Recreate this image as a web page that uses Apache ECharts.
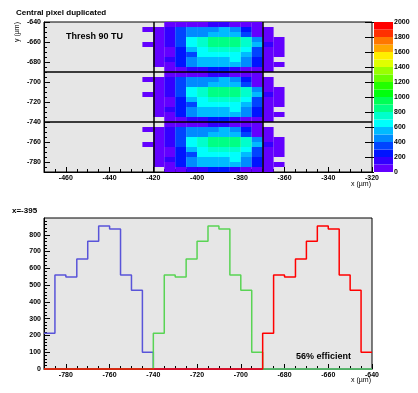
<!DOCTYPE html>
<html><head><meta charset="utf-8">
<script src="https://cdn.jsdelivr.net/npm/echarts@6/dist/echarts.min.js"></script>
<style>html,body{margin:0;padding:0;background:#fff}#c{width:418px;height:393px}</style>
</head><body><div id="c"></div>
<script>
// ================= DATA =================
// 2D map: left edges of the 5 µm x bins
const heatXEdges = [-425,-420,-415,-410,-405,-400,-395,-390,-385,-380,-375,-370,-365];
// top edges of the 5 µm y rows, per duplicated pixel block
const topBlockRowTops    = [-640,-645,-650,-655,-660,-665,-670,-675,-680,-685];
const middleBlockRowTops = [-690,-695,-700,-705,-710,-715,-720,-725,-730,-735];
const bottomBlockRowTops = [-740,-745,-750,-755,-760,-765,-770,-775,-780,-785];
// counts (rows from top to bottom, columns from left to right), 0 = empty
const topBlockCounts = [
  [0, 0, 60, 60, 60, 60,100,120, 60, 60, 60,  0,  0],
  [50,60,180,370,480,470,470,560,480,250, 60, 60,  0],
  [0, 60,190,360,480,490,560,570,500,350, 70, 60,  0],
  [0, 60,180,380,650,760,834,850,840,740,480, 60, 60],
  [60,60,180,360,660,750,852,860,850,730,560,150, 60],
  [0, 60, 70,250,520,680,762,760,740,660,380, 60, 60],
  [0, 60, 60,250,380,640,655,660,670,560,380, 60, 60],
  [0, 60,160,260,480,560,548,570,640,480,250, 60,  0],
  [0, 60, 60,250,470,560,560,560,560,480,250, 60, 60],
  [0,  0, 60, 60,160,150,213,220,150, 60, 60, 60,  0]
];
const middleBlockCounts = [
  [0, 0, 60, 60, 60, 60,100,120, 60, 60, 60,  0,  0],
  [50,60,180,370,480,470,470,560,480,250, 60, 60,  0],
  [0, 60,190,360,480,490,560,570,500,350, 70, 60,  0],
  [0, 60,180,380,650,760,834,850,840,740,480, 60, 60],
  [60,60,180,360,660,750,852,860,850,730,560,150, 60],
  [0, 60, 70,250,520,680,762,760,740,660,380, 60, 60],
  [0, 60, 60,250,380,640,655,660,670,560,380, 60, 60],
  [0, 60,160,260,480,560,548,570,640,480,250, 60,  0],
  [0, 60, 60,250,470,560,560,560,560,480,250, 60, 60],
  [0,  0, 60, 60,160,150,213,220,150, 60, 60, 60,  0]
];
const bottomBlockCounts = [
  [0, 0, 60, 60, 60, 60,100,120, 60, 60, 60,  0,  0],
  [50,60,180,370,480,470,470,560,480,250, 60, 60,  0],
  [0, 60,190,360,480,490,560,570,500,350, 70, 60,  0],
  [0, 60,180,380,650,760,834,850,840,740,480, 60, 60],
  [60,60,180,360,660,750,852,860,850,730,560,150, 60],
  [0, 60, 70,250,520,680,762,760,740,660,380, 60, 60],
  [0, 60, 60,250,380,640,655,660,670,560,380, 60, 60],
  [0, 60,160,260,480,560,548,570,640,480,250, 60,  0],
  [0, 60, 60,250,470,560,560,560,560,480,250, 60, 60],
  [0,  0, 60, 60,160,150,213,220,150, 60, 60, 60,  0]
];
const pixelBoundaryX = [-420, -370];
const pixelBoundaryY = [-690, -740];

// slice at x = -395: left edges of bins and counts per duplicated block
const sliceEdges = [-790,-785,-780,-775,-770,-765,-760,-755,-750,-745,
                    -740,-735,-730,-725,-720,-715,-710,-705,-700,-695,
                    -690,-685,-680,-675,-670,-665,-660,-655,-650,-645];
const blueCounts  = [213,560,548,655,762,852,834,560,470,100,
                     0,0,0,0,0,0,0,0,0,0,
                     0,0,0,0,0,0,0,0,0,0];
const greenCounts = [0,0,0,0,0,0,0,0,0,0,
                     213,560,548,655,762,852,834,560,470,100,
                     0,0,0,0,0,0,0,0,0,0];
const redCounts   = [0,0,0,0,0,0,0,0,0,0,
                     0,0,0,0,0,0,0,0,0,0,
                     213,560,548,655,762,852,834,560,470,100];

// tick labels
const mapXTicks   = [-460,-440,-420,-400,-380,-360,-340,-320];
const mapYTicks   = [-780,-760,-740,-720,-700,-680,-660,-640];
const paletteTicks = [0,200,400,600,800,1000,1200,1400,1600,1800,2000];
const paletteLevels = [0,100,200,300,400,500,600,700,800,900,1000,1100,1200,1300,1400,1500,1600,1700,1800,1900];
const sliceXTicks = [-780,-760,-740,-720,-700,-680,-660,-640];
const sliceYTicks = [0,100,200,300,400,500,600,700,800];

// ================= STYLE =================
const palette = ['#6300ff','#3300ff','#0014ff','#0044ff','#008bff','#00bbff','#00fffc','#00ffcc','#00ff85','#00ff55',
                 '#00ff0e','#22ff00','#69ff00','#99ff00','#e0ff00','#ffee00','#ffa700','#ff7700','#ff3000','#ff0000'];
const BIN = 5, LEVEL = 100;
const FONT = 'Liberation Sans, Arial, Helvetica, sans-serif';
function levelColor(v){ const k = Math.min(19, Math.floor(0.01 + v / LEVEL)); return palette[k]; }
function range(a, b, s){ const r=[]; for(let v=a; v<=b+1e-9; v+=s) r.push(v); return r; }
const plain = v => String(v);

// build map cells
const heatCells = [];
[[topBlockRowTops, topBlockCounts],[middleBlockRowTops, middleBlockCounts],[bottomBlockRowTops, bottomBlockCounts]]
.forEach(([tops, counts]) => {
  counts.forEach((row, r) => row.forEach((v, c) => {
    if (v > 0) heatCells.push([heatXEdges[c], tops[r] - BIN, v]);
  }));
});
function histData(counts){
  const d = sliceEdges.map((e, i) => [e, counts[i]]);
  d.push([sliceEdges[sliceEdges.length-1] + BIN, counts[counts.length-1]]);
  return d;
}

const lblStyle = {fontSize:7, fontWeight:'bold', color:'#000', fontFamily:FONT, formatter:plain};
function majorAxis(extra){
  return Object.assign({type:'value', splitLine:{show:false},
    axisLine:{show:true, onZero:false, lineStyle:{color:'#000', width:1}}}, extra);
}
function minorAxis(extra, vals, pos){
  return Object.assign({type:'value', position:pos, splitLine:{show:false}, axisLine:{show:false},
    axisLabel:{show:false}, axisTick:{show:true, inside:true, length:3, customValues: vals, lineStyle:{color:'#000'}}}, extra);
}

const chart = echarts.init(document.getElementById('c'), null, {renderer:'canvas'});
chart.setOption({
  animation:false,
  grid:[
    {left:44, top:22, width:328, height:150, show:true, backgroundColor:'#e6e6e6', borderColor:'#000', borderWidth:1},
    {left:374, top:22, width:19, height:150, show:false},
    {left:44, top:218, width:328, height:151, show:true, backgroundColor:'#e6e6e6', borderColor:'#000', borderWidth:1}
  ],
  xAxis:[
    majorAxis({gridIndex:0, min:-470, max:-320, position:'bottom',
      axisTick:{show:true, inside:true, length:5, customValues:mapXTicks, lineStyle:{color:'#000'}},
      axisLabel:Object.assign({customValues:mapXTicks, margin:3}, lblStyle)}),
    minorAxis({gridIndex:0, min:-470, max:-320}, range(-465,-325,5), 'bottom'),
    {gridIndex:1, type:'value', min:0, max:1, show:false},
    majorAxis({gridIndex:2, min:-790, max:-640, position:'bottom',
      axisTick:{show:true, inside:true, length:5, customValues:sliceXTicks, lineStyle:{color:'#000'}},
      axisLabel:Object.assign({customValues:sliceXTicks, margin:3}, lblStyle)}),
    minorAxis({gridIndex:2, min:-790, max:-640}, range(-785,-645,5), 'bottom')
  ],
  yAxis:[
    majorAxis({gridIndex:0, min:-790, max:-640, position:'left',
      axisTick:{show:true, inside:true, length:6, customValues:mapYTicks, lineStyle:{color:'#000'}},
      axisLabel:Object.assign({customValues:mapYTicks, margin:3}, lblStyle)}),
    minorAxis({gridIndex:0, min:-790, max:-640}, range(-785,-645,5), 'left'),
    {gridIndex:1, type:'value', min:0, max:2000, position:'right', splitLine:{show:false},
      axisLine:{show:false}, axisTick:{show:true, inside:true, length:9, customValues:paletteTicks, lineStyle:{color:'#000'}},
      axisLabel:Object.assign({customValues:paletteTicks, margin:1}, lblStyle)},
    majorAxis({gridIndex:2, min:0, max:900, position:'left',
      axisTick:{show:true, inside:true, length:6, customValues:sliceYTicks, lineStyle:{color:'#000'}},
      axisLabel:Object.assign({customValues:sliceYTicks, margin:3}, lblStyle)}),
    minorAxis({gridIndex:2, min:0, max:900}, range(20,880,20), 'left')
  ],
  series:[
    {type:'custom', xAxisIndex:0, yAxisIndex:0, data:heatCells, clip:true, z:2,
      renderItem:function(params, api){
        const x0 = api.value(0), y0 = api.value(1), v = api.value(2);
        const p1 = api.coord([x0, y0 + BIN]);
        const p2 = api.coord([x0 + BIN, y0]);
        return {type:'rect', shape:{x:p1[0], y:p1[1], width:p2[0]-p1[0], height:p2[1]-p1[1]},
          style:{fill:levelColor(v)}};
      }},
    {type:'line', xAxisIndex:0, yAxisIndex:0, data:[], z:5,
      markLine:{silent:true, symbol:'none', label:{show:false}, animation:false,
        lineStyle:{color:'#000', width:1.5, type:'solid'},
        data: pixelBoundaryX.map(v => ({xAxis:v})).concat(pixelBoundaryY.map(v => ({yAxis:v})))}},
    {type:'custom', xAxisIndex:2, yAxisIndex:2, data:paletteLevels, z:2,
      renderItem:function(params, api){
        const lv = api.value(0);
        const p1 = api.coord([0, lv + LEVEL]);
        const p2 = api.coord([1, lv]);
        return {type:'rect', shape:{x:p1[0], y:p1[1], width:p2[0]-p1[0], height:p2[1]-p1[1]},
          style:{fill:levelColor(lv)}};
      },
      encode:{y:0}},
    {type:'line', xAxisIndex:3, yAxisIndex:3, step:'end', symbol:'none', clip:false, z:3,
      lineStyle:{color:'#5954d9', width:1.5}, data:histData(blueCounts)},
    {type:'line', xAxisIndex:3, yAxisIndex:3, step:'end', symbol:'none', clip:false, z:4,
      lineStyle:{color:'#59d454', width:1.5}, data:histData(greenCounts)},
    {type:'line', xAxisIndex:3, yAxisIndex:3, step:'end', symbol:'none', clip:false, z:5,
      lineStyle:{color:'#ff0000', width:1.5}, data:histData(redCounts)}
  ],
  graphic:[
    {type:'text', x:16, y:13, style:{text:'Central pixel duplicated', font:'bold 8px '+FONT, fill:'#000', verticalAlign:'middle'}},
    {type:'text', x:66, y:37, z:10, style:{text:'Thresh 90 TU', font:'bold 9px '+FONT, fill:'#000', verticalAlign:'middle'}},
    {type:'text', x:371, y:184, style:{text:'x (\u00b5m)', font:'7px '+FONT, fill:'#000', align:'right', verticalAlign:'middle'}},
    {type:'text', x:17.5, y:22, rotation:Math.PI/2, style:{text:'y (\u00b5m)', font:'7px '+FONT, fill:'#000', align:'right', verticalAlign:'middle'}},
    {type:'text', x:12, y:210.5, style:{text:'x=-395', font:'bold 8px '+FONT, fill:'#000', verticalAlign:'middle'}},
    {type:'text', x:296, y:357, z:10, style:{text:'56% efficient', font:'bold 9px '+FONT, fill:'#000', verticalAlign:'middle'}},
    {type:'text', x:371, y:380.5, style:{text:'x (\u00b5m)', font:'7px '+FONT, fill:'#000', align:'right', verticalAlign:'middle'}}
  ]
});
</script></body></html>
